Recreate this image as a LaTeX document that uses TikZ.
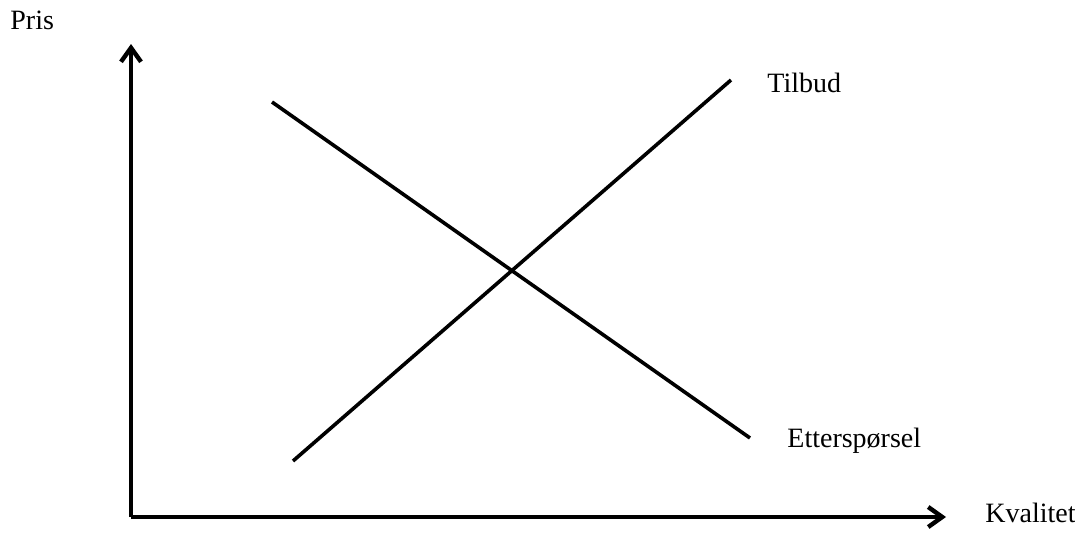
\documentclass[tikz,border=0pt]{standalone}
\usepackage{fontspec}
\setmainfont{Liberation Serif}
\usetikzlibrary{arrows.meta}

\tikzset{
  curve/.style={line width=1.8pt},
  axis/.style={line width=1.8pt, -{Straight Barb[length=7pt,width=10pt,line width=2.2pt]}},
  lbl/.style={inner sep=0pt, font=\fontsize{14}{16}\selectfont}
}

\begin{document}
\begin{tikzpicture}[x=0.5pt,y=-0.5pt]
  			\useasboundingbox (0,0) rectangle (1075,552);
  			% axes
  			\coordinate (o) at (131,517);
  			\coordinate (ytop) at (131,44);
  			\coordinate (xend) at (946,517);
  			\draw[axis] (o) -- (ytop);
  			\draw[axis] (o) -- (xend);
  			\node[lbl, anchor=west] (pris) at (10,20) {Pris};
  			\node[lbl, anchor=west] (kval) at (985,513) {Kvalitet};
  			
  			% tilbud og etterspørsel
  			\coordinate (s0) at (293,461);
  			\coordinate (s1) at (731,80);
  			\coordinate (d0) at (272,102);
  			\coordinate (d1) at (750,438);
  			\draw[curve] (s0) -- (s1);
  			\draw[curve] (d0) -- (d1);
  			\node[lbl, anchor=west] (tilbud) at (767,83) {Tilbud};
  			\node[lbl, anchor=west] (ettersp) at (787,441) {Etterspørsel};
\end{tikzpicture}
\end{document}
